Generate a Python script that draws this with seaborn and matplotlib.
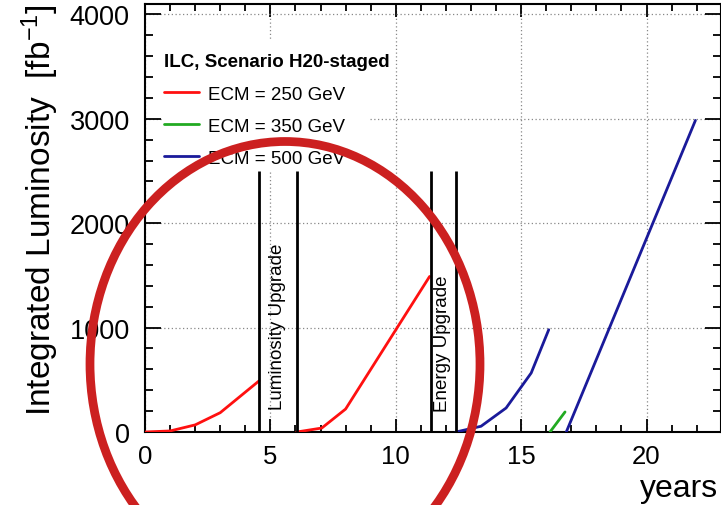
import numpy as np
import pandas as pd
import matplotlib
matplotlib.use("Agg")
import matplotlib.pyplot as plt
import matplotlib.patches as patches
from matplotlib.lines import Line2D
from matplotlib.ticker import MultipleLocator
import seaborn as sns

# integrated luminosity per running period
yr_250_a = [0, 1, 2, 3, 4.55]
lum_250_a = [0, 10, 68, 185, 490]
yr_250_b = [6.05, 7.05, 8.0, 11.35]
lum_250_b = [0, 38, 220, 1490]
yr_350 = [16.15, 16.75]
lum_350 = [0, 192]
yr_500_a = [12.4, 13.4, 14.4, 15.4, 16.1]
lum_500_a = [0, 55, 230, 565, 980]
yr_500_b = [16.8, 21.95]
lum_500_b = [0, 2985]

labels = ["ECM = 250 GeV", "ECM = 350 GeV", "ECM = 500 GeV"]
colors = ["#ff1010", "#22aa22", "#1a1a9a"]

# upgrade shutdown periods
lumi_upgrade = [4.55, 6.05]
energy_upgrade = [11.4, 12.4]
upgrade_top = 2500
lumi_text_pos = (5.3, 220)
energy_text_pos = (11.88, 200)

segments = [
    (yr_250_a, lum_250_a, labels[0], 0),
    (yr_250_b, lum_250_b, labels[0], 1),
    (yr_350, lum_350, labels[1], 2),
    (yr_500_a, lum_500_a, labels[2], 3),
    (yr_500_b, lum_500_b, labels[2], 4),
]
rows = []
for xs, ys, lab, run in segments:
    for x, y in zip(xs, ys):
        rows.append({"year": x, "lumi": y, "ecm": lab, "run": run})
df = pd.DataFrame(rows)

sns.set_theme(style="ticks")
plt.rcParams["font.family"] = ["Liberation Sans", "DejaVu Sans"]
plt.rcParams["mathtext.fontset"] = "custom"
plt.rcParams["mathtext.rm"] = "Liberation Sans"
plt.rcParams["mathtext.it"] = "Liberation Sans:italic"
for key in ["text.color", "axes.labelcolor", "xtick.color", "ytick.color", "axes.edgecolor"]:
    plt.rcParams[key] = "black"

fig = plt.figure(figsize=(7.21, 5.06), dpi=100)
ax = fig.add_axes([145 / 721, 73 / 506, 575.5 / 721, 428 / 506])

sns.lineplot(data=df, x="year", y="lumi", hue="ecm", units="run", estimator=None,
             sort=False, palette=dict(zip(labels, colors)), linewidth=2,
             legend=False, ax=ax, zorder=3)

ax.vlines(lumi_upgrade + energy_upgrade, 0, upgrade_top, color="black", linewidth=2, zorder=3)
ax.text(*lumi_text_pos, "Luminosity Upgrade", rotation=90, ha="center", va="bottom", fontsize=13.5)
ax.text(*energy_text_pos, "Energy Upgrade", rotation=90, ha="center", va="bottom", fontsize=13.5)

ax.set_xlim(0, 22.95)
ax.set_ylim(0, 4100)
ax.xaxis.set_major_locator(MultipleLocator(5))
ax.xaxis.set_minor_locator(MultipleLocator(1))
ax.yaxis.set_major_locator(MultipleLocator(1000))
ax.yaxis.set_minor_locator(MultipleLocator(200))

ax.set_axisbelow(True)
ax.grid(True, which="major", linestyle=(0, (1, 2)), color="#888888", linewidth=0.9)
ax.tick_params(axis="both", which="both", direction="in", top=True, right=True, width=1.3, color="black")
ax.tick_params(axis="y", which="major", length=11.5, labelsize=19.5, pad=11)
ax.tick_params(axis="y", which="minor", length=6)
ax.tick_params(axis="x", which="major", length=9.5, labelsize=18.5, pad=9)
ax.tick_params(axis="x", which="minor", length=5)
for s in ax.spines.values():
    s.set_linewidth(1.5)
    s.set_color("black")
ax.set_xlabel("")
ax.set_ylabel("")

# white background of the legend area
ax.add_patch(patches.Rectangle((0.03, 0.61), 0.357, 0.305, transform=ax.transAxes,
                               facecolor="white", edgecolor="none", zorder=1))
handles = [Line2D([], [], color=c, linewidth=2) for c in colors]
leg = ax.legend(handles, labels, title="ILC, Scenario H20-staged", loc="upper left",
                bbox_to_anchor=(0.003, 0.924), frameon=False, fontsize=13.5,
                title_fontproperties={"weight": "bold", "size": 13.5},
                alignment="left", handlelength=1.9, handletextpad=0.45,
                labelspacing=0.8, borderpad=0.4)

fig.text(40 / 721, 1 - 4 / 506, "Integrated Luminosity  [fb$^{-1}$]", rotation=90,
         ha="center", va="top", fontsize=24)
fig.text(718 / 721, 1 - 497 / 506, "years", ha="right", va="baseline", fontsize=23)

# red circle drawn over the picture
fig.add_artist(patches.Ellipse((285 / 721, 1 - 365 / 506), 390 / 721, 445 / 506,
                               transform=fig.transFigure, fill=False,
                               edgecolor="#cc2020", linewidth=6.3, zorder=10))

fig.savefig("out.png", dpi=100)
